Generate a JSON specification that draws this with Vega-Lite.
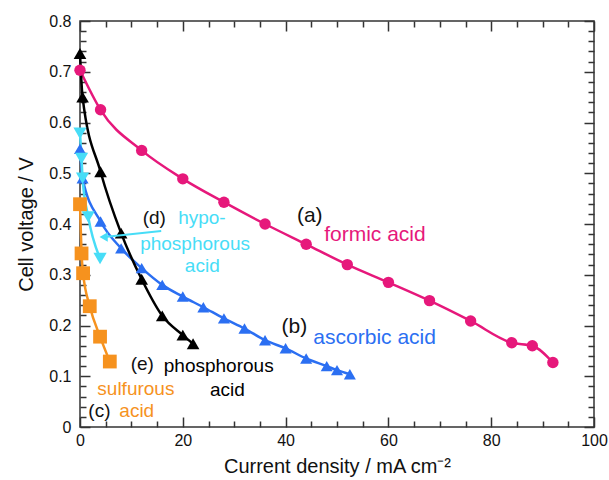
{
  "$schema": "https://vega.github.io/schema/vega-lite/v6.json",
  "width": 514,
  "height": 406,
  "autosize": "none",
  "padding": {"left": 80, "top": 21, "right": 15, "bottom": 53},
  "background": "white",
  "config": {
    "view": {"stroke": "#333333", "strokeWidth": 1.5},
    "font": "Liberation Sans",
    "axis": {
      "grid": false,
      "domain": false,
      "labelFlush": false,
      "labelOverlap": false,
      "tickColor": "#333333",
      "tickWidth": 1.5,
      "labelFont": "Liberation Sans",
      "labelFontSize": 16,
      "labelColor": "#111111",
      "titleFont": "Liberation Sans",
      "titleFontSize": 20,
      "titleFontWeight": "normal",
      "titleColor": "#111111"
    }
  },
  "datasets": {
    "curves": [
      {"x": 0, "y": 0.703, "series": "formic"},
      {"x": 4, "y": 0.625, "series": "formic"},
      {"x": 12, "y": 0.545, "series": "formic"},
      {"x": 20, "y": 0.489, "series": "formic"},
      {"x": 28, "y": 0.443, "series": "formic"},
      {"x": 36, "y": 0.4, "series": "formic"},
      {"x": 44, "y": 0.36, "series": "formic"},
      {"x": 52, "y": 0.32, "series": "formic"},
      {"x": 60, "y": 0.285, "series": "formic"},
      {"x": 68, "y": 0.249, "series": "formic"},
      {"x": 76, "y": 0.209, "series": "formic"},
      {"x": 84, "y": 0.166, "series": "formic"},
      {"x": 88, "y": 0.16, "series": "formic"},
      {"x": 92, "y": 0.127, "series": "formic"},
      {"x": 0, "y": 0.548, "series": "ascorbic"},
      {"x": 0.5, "y": 0.49, "series": "ascorbic"},
      {"x": 4, "y": 0.405, "series": "ascorbic"},
      {"x": 8, "y": 0.352, "series": "ascorbic"},
      {"x": 12, "y": 0.313, "series": "ascorbic"},
      {"x": 16, "y": 0.28, "series": "ascorbic"},
      {"x": 20, "y": 0.257, "series": "ascorbic"},
      {"x": 24, "y": 0.236, "series": "ascorbic"},
      {"x": 28, "y": 0.214, "series": "ascorbic"},
      {"x": 32, "y": 0.194, "series": "ascorbic"},
      {"x": 36, "y": 0.171, "series": "ascorbic"},
      {"x": 40, "y": 0.155, "series": "ascorbic"},
      {"x": 44, "y": 0.135, "series": "ascorbic"},
      {"x": 48, "y": 0.12, "series": "ascorbic"},
      {"x": 50, "y": 0.112, "series": "ascorbic"},
      {"x": 52.5, "y": 0.104, "series": "ascorbic"},
      {"x": 0, "y": 0.736, "series": "phosphorous"},
      {"x": 0.5, "y": 0.65, "series": "phosphorous"},
      {"x": 4, "y": 0.503, "series": "phosphorous"},
      {"x": 8, "y": 0.382, "series": "phosphorous"},
      {"x": 12, "y": 0.291, "series": "phosphorous"},
      {"x": 16, "y": 0.219, "series": "phosphorous"},
      {"x": 20, "y": 0.181, "series": "phosphorous"},
      {"x": 22, "y": 0.164, "series": "phosphorous"},
      {"x": 0, "y": 0.579, "series": "hypophosphorous"},
      {"x": 0.3, "y": 0.529, "series": "hypophosphorous"},
      {"x": 0.5, "y": 0.49, "series": "hypophosphorous"},
      {"x": 1.6, "y": 0.414, "series": "hypophosphorous"},
      {"x": 3.9, "y": 0.332, "series": "hypophosphorous"},
      {"x": 0, "y": 0.439, "series": "sulfurous"},
      {"x": 0.3, "y": 0.342, "series": "sulfurous"},
      {"x": 0.6, "y": 0.303, "series": "sulfurous"},
      {"x": 1.9, "y": 0.238, "series": "sulfurous"},
      {"x": 3.9, "y": 0.178, "series": "sulfurous"},
      {"x": 5.8, "y": 0.129, "series": "sulfurous"}
    ],
    "labels": [
      {"x": 42.2, "y": 0.4045, "text": "(a)", "series": "label", "curve": "a"},
      {"x": 47.5, "y": 0.367, "text": "formic acid", "series": "formic", "curve": "a"},
      {"x": 39.2, "y": 0.1846, "text": "(b)", "series": "label", "curve": "b"},
      {"x": 45.4, "y": 0.1635, "text": "ascorbic acid", "series": "ascorbic", "curve": "b"},
      {"x": 9.86, "y": 0.112, "text": "(e)", "series": "label", "curve": "e"},
      {"x": 16.3, "y": 0.109, "text": "phosphorous", "series": "phosphorous", "curve": "e"},
      {"x": 25.3, "y": 0.0617, "text": "acid", "series": "phosphorous", "curve": "e"},
      {"x": 3.37, "y": 0.063, "text": "sulfurous", "series": "sulfurous", "curve": "c"},
      {"x": 1.62, "y": 0.0203, "text": "(c)", "series": "label", "curve": "c"},
      {"x": 7.65, "y": 0.0203, "text": "acid", "series": "sulfurous", "curve": "c"},
      {"x": 12.2, "y": 0.3994, "text": "(d)", "series": "label", "curve": "d"},
      {"x": 19.1, "y": 0.3994, "text": "hypo-", "series": "hypophosphorous", "curve": "d"},
      {"x": 11.7, "y": 0.349, "text": "phosphorous", "series": "hypophosphorous", "curve": "d"},
      {"x": 20.4, "y": 0.305, "text": "acid", "series": "hypophosphorous", "curve": "d"}
    ],
    "arrow": [
      {"x": 15.8, "y": 0.386, "x2": 5.2, "y2": 0.375}
    ],
    "arrowhead": [
      {"x": 4.6, "y": 0.3745}
    ]
  },
  "resolve": {"axis": {"x": "independent", "y": "independent"}},
  "layer": [
    {
      "data": {"name": "curves"},
      "mark": {"type": "line", "interpolate": "monotone", "strokeWidth": 2.5},
      "encoding": {
        "x": {
          "field": "x", "type": "quantitative",
          "scale": {"domain": [0, 100], "nice": false, "zero": false},
          "axis": {
            "orient": "bottom",
            "values": [0, 20, 40, 60, 80, 100],
            "offset": -10,
            "tickSize": 10,
            "labelPadding": 5,
            "format": "d",
            "title": "Current density / mA cm⁻²",
            "titlePadding": 8
          }
        },
        "y": {
          "field": "y", "type": "quantitative",
          "scale": {"domain": [0, 0.8], "nice": false, "zero": false},
          "axis": {
            "orient": "left",
            "values": [0, 0.1, 0.2, 0.3, 0.4, 0.5, 0.6, 0.7, 0.8],
            "offset": -10,
            "tickSize": 10,
            "labelPadding": 9,
            "format": ".1~f",
            "title": "Cell voltage / V",
            "titlePadding": 12
          }
        },
        "color": {
          "field": "series", "type": "nominal",
          "scale": {
            "domain": ["formic", "ascorbic", "phosphorous", "hypophosphorous", "sulfurous", "label"],
            "range": ["#e6187b", "#2b6ff2", "#000000", "#47ddf7", "#f6921e", "#111111"]
          },
          "legend": null
        },
        "detail": {"field": "series"}
      }
    },
    {
      "data": {"name": "curves"},
      "mark": {"type": "point", "filled": true, "opacity": 1},
      "encoding": {
        "x": {
          "field": "x", "type": "quantitative",
          "axis": {
            "orient": "bottom",
            "values": [5, 10, 15, 25, 30, 35, 45, 50, 55, 65, 70, 75, 85, 90, 95],
            "offset": -6,
            "tickSize": 6,
            "labels": false,
            "title": null
          }
        },
        "y": {
          "field": "y", "type": "quantitative",
          "axis": {
            "orient": "left",
            "values": [0.02, 0.04, 0.06, 0.08, 0.12, 0.14, 0.16, 0.18, 0.22, 0.24, 0.26, 0.28, 0.32, 0.34, 0.36, 0.38, 0.42, 0.44, 0.46, 0.48, 0.52, 0.54, 0.56, 0.58, 0.62, 0.64, 0.66, 0.68, 0.72, 0.74, 0.76, 0.78],
            "offset": -6,
            "tickSize": 6,
            "labels": false,
            "title": null
          }
        },
        "color": {"field": "series", "type": "nominal", "legend": null},
        "shape": {
          "field": "series", "type": "nominal",
          "scale": {
            "domain": ["formic", "ascorbic", "phosphorous", "hypophosphorous", "sulfurous"],
            "range": ["circle", "triangle-up", "triangle-up", "triangle-down", "square"]
          },
          "legend": null
        },
        "size": {
          "field": "series", "type": "nominal",
          "scale": {
            "domain": ["formic", "ascorbic", "phosphorous", "hypophosphorous", "sulfurous"],
            "range": [130, 190, 190, 190, 115]
          },
          "legend": null
        }
      }
    },
    {
      "data": {"name": "arrow"},
      "mark": {"type": "rule", "color": "#47ddf7", "strokeWidth": 2},
      "encoding": {
        "x": {
          "field": "x", "type": "quantitative",
          "axis": {
            "orient": "top",
            "values": [0, 20, 40, 60, 80, 100],
            "offset": -10,
            "tickSize": 10,
            "labels": false,
            "title": null
          }
        },
        "y": {
          "field": "y", "type": "quantitative",
          "axis": {
            "orient": "right",
            "values": [0, 0.1, 0.2, 0.3, 0.4, 0.5, 0.6, 0.7, 0.8],
            "offset": -10,
            "tickSize": 10,
            "labels": false,
            "title": null
          }
        },
        "x2": {"field": "x2"},
        "y2": {"field": "y2"}
      }
    },
    {
      "data": {"name": "arrowhead"},
      "mark": {"type": "point", "shape": "triangle-left", "filled": true, "opacity": 1, "color": "#47ddf7", "size": 90},
      "encoding": {
        "x": {
          "field": "x", "type": "quantitative",
          "axis": {
            "orient": "top",
            "values": [5, 10, 15, 25, 30, 35, 45, 50, 55, 65, 70, 75, 85, 90, 95],
            "offset": -6,
            "tickSize": 6,
            "labels": false,
            "title": null
          }
        },
        "y": {
          "field": "y", "type": "quantitative",
          "axis": {
            "orient": "right",
            "values": [0.02, 0.04, 0.06, 0.08, 0.12, 0.14, 0.16, 0.18, 0.22, 0.24, 0.26, 0.28, 0.32, 0.34, 0.36, 0.38, 0.42, 0.44, 0.46, 0.48, 0.52, 0.54, 0.56, 0.58, 0.62, 0.64, 0.66, 0.68, 0.72, 0.74, 0.76, 0.78],
            "offset": -6,
            "tickSize": 6,
            "labels": false,
            "title": null
          }
        }
      }
    },
    {
      "data": {"name": "labels"},
      "transform": [{"filter": "datum.curve === 'a' || datum.curve === 'b'"}],
      "mark": {"type": "text", "align": "left", "baseline": "alphabetic", "fontSize": 21, "font": "Liberation Sans"},
      "encoding": {
        "x": {"field": "x", "type": "quantitative", "axis": null},
        "y": {"field": "y", "type": "quantitative", "axis": null},
        "text": {"field": "text"},
        "color": {"field": "series", "type": "nominal", "legend": null}
      }
    },
    {
      "data": {"name": "labels"},
      "transform": [{"filter": "datum.curve !== 'a' && datum.curve !== 'b'"}],
      "mark": {"type": "text", "align": "left", "baseline": "alphabetic", "fontSize": 19, "font": "Liberation Sans"},
      "encoding": {
        "x": {"field": "x", "type": "quantitative", "axis": null},
        "y": {"field": "y", "type": "quantitative", "axis": null},
        "text": {"field": "text"},
        "color": {"field": "series", "type": "nominal", "legend": null}
      }
    }
  ]
}
